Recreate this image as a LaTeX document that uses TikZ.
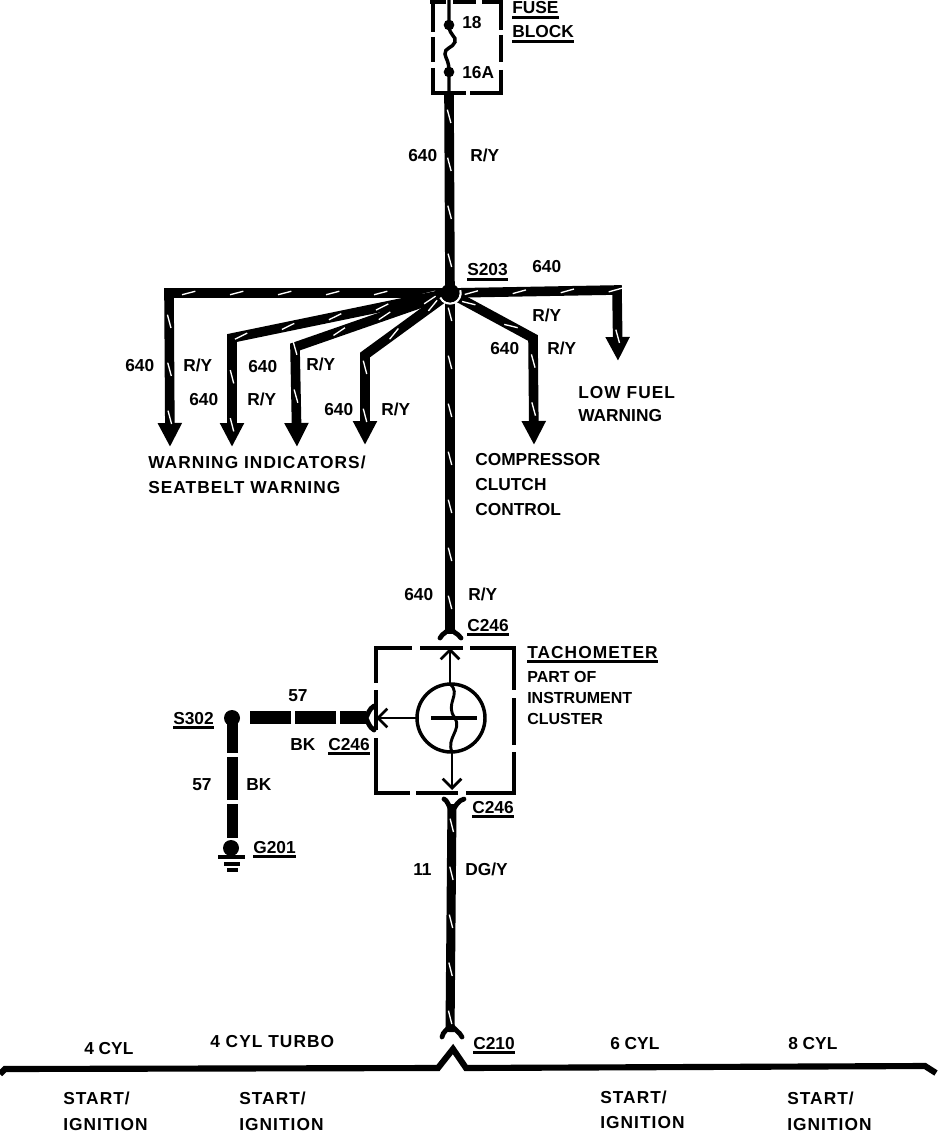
\documentclass[tikz,border=0pt]{standalone}
\usepackage{fontspec}
\setmainfont{Liberation Sans}
\newfontfamily\widefont[LetterSpace=6]{Liberation Sans}
\usetikzlibrary{arrows.meta,decorations.markings}

\newcommand{\tagtext}[1]{\vtop{\hbox{#1}\kern1.4pt\hrule height 1.9pt}}

\tikzset{
  lbl/.style={anchor=base west, inner sep=0pt, font=\fontsize{13}{15}\selectfont\bfseries},
  widelbl/.style={lbl, font=\widefont\fontsize{13}{15}\selectfont\bfseries},
  small/.style={lbl, font=\fontsize{12}{14}\selectfont\bfseries},
  wire/.style={draw, line width=7.2pt, miter limit=10,
    postaction={decorate, decoration={markings,
      mark=between positions 16pt and -8pt step 36pt with
        {\draw[white, -, line width=1pt] (-5pt,-1.3pt) -- (5pt,1.3pt);}}}},
  arrowwire/.style={wire, -{Triangle[length=18pt,width=17pt]}},
  thin/.style={draw, line width=2pt},
  openarrow/.style={thin, -{Straight Barb[length=7pt,width=14pt,line width=2pt]}},
  boxline/.style={draw, line width=3.4pt},
  fork/.style={draw, line width=3.6pt, line cap=round}
}

\begin{document}
\begin{tikzpicture}[x=0.75pt,y=-0.75pt]
\useasboundingbox (0,0) rectangle (944,1144);
\fill[white] (0,0) rectangle (944,1144);

\coordinate (fusetop) at (449,0);
\coordinate (fuse18) at (449,25);
\coordinate (fuse16) at (449,72);
\coordinate (fuseout) at (449,95);
\coordinate (s203) at (450,293);
\coordinate (c246top) at (450,634);
\coordinate (c246bot) at (452,804);
\coordinate (c210) at (450,1032);
\coordinate (tach) at (451,718);
\coordinate (s302) at (232,718);
\coordinate (g201) at (231,848);

% fuse block
\foreach \a/\b in {430/446,453/476,482/502}
    \draw[boxline] (\a,2) -- (\b,2);
\foreach \a/\b in {0/32,37/62,68/95}
    \draw[boxline] (433,\a) -- (433,\b);
\foreach \a/\b in {0/30,35/62,70/95}
    \draw[boxline] (501,\a) -- (501,\b);
\foreach \a/\b in {432/466,470/502}
    \draw[boxline] (\a,93) -- (\b,93);
\draw[thin, line width=2.6pt] (fusetop) -- (fuse18)
  .. controls (449,36) and (457,36) .. (455,42)
  .. controls (453,48) and (444,48) .. (445,54)
  .. controls (446,60) and (449,60) .. (fuse16) -- (fuseout);
\foreach \i in {fuse18,fuse16}
    \fill (\i) circle (4pt);

% feed and splice
\path[wire] (fuseout) -- (s203);
\path[wire] (s203) -- (c246top);
\path[arrowwire] (s203) -- (169,293) -- (170,447);
\path[arrowwire] (s203) -- (232,338) -- (232,447);
\path[arrowwire] (s203) -- (295,347) -- (297,447);
\path[arrowwire] (s203) -- (365,355) -- (365,445);
\path[arrowwire] (s203) -- (533,338) -- (534,445);
\path[arrowwire] (s203) -- (617,290) -- (618,361);
\draw[white, line width=1.6pt] ([shift={(205:8pt)}]s203) arc[start angle=205, end angle=375, radius=8pt];
\fill (s203) circle (7pt);

% tachometer
\foreach \a/\b in {374/412,420/463,470/516}
    \draw[boxline] (\a,648) -- (\b,648);
\foreach \a/\b in {648/683,690/730,738/795}
    \draw[boxline] (376,\a) -- (376,\b);
\foreach \a/\b in {648/690,698/745,752/795}
    \draw[boxline] (514,\a) -- (514,\b);
\foreach \a/\b in {374/410,416/458,466/516}
    \draw[boxline] (\a,793) -- (\b,793);
\draw[thin, line width=2.6pt] (tach) circle (34);
\draw[thin, line width=2.6pt] (431,718) -- (477,718);
\draw[thin, line width=2.2pt] (450,684) .. controls (462,694) and (444,704) .. (455,718)
  .. controls (462,730) and (446,738) .. (452,752);
\path[openarrow] (450,684) -- (450,648);
\path[openarrow] (417,718) -- (376,718);
\path[openarrow] (452,752) -- (452,790);

% connector forks
\draw[fork] (440,638) .. controls (443,632) and (447,634) .. (450,626)
  .. controls (453,634) and (457,632) .. (461,638);
\draw[fork] (444,799) .. controls (447,800) and (449,806) .. (452,812)
  .. controls (455,806) and (459,800) .. (464,799);
\draw[fork] (374,706) .. controls (369,709) and (368,714) .. (366,718)
  .. controls (368,722) and (369,727) .. (374,730);
\draw[fork] (442,1037) .. controls (443,1031) and (447,1031) .. (451,1024)
  .. controls (455,1031) and (459,1031) .. (462,1037);

% lower wires
\path[wire, line width=6.8pt] (c246bot) -- (c210);
\draw[line width=9.75pt, dash pattern=on 30.75pt off 3pt, dash phase=11.25pt] (366,717) -- (247,717);
\draw[line width=8.25pt, dash pattern=on 23.25pt off 3pt on 32.25pt off 3pt on 30pt off 10pt] (232,722) -- (232,838);
\foreach \i in {s302,g201}
    \fill (\i) circle (6pt);
\draw[line width=2.6pt] (218,857) -- (245,857);
\draw[line width=2.4pt] (224,864) -- (240,864);
\draw[line width=2.4pt] (227,870) -- (238,870);

% start/ignition bus
\draw[line width=4.6pt] (0,1074) -- (5,1069) -- (438,1068) -- (453,1049)
  -- (466,1068) -- (925,1066) -- (936,1073);

\foreach \i/\x/\y in {a/408/162,b/532/273,c/490/354,d/125/372,e/189/405,f/248/373,g/324/415,h/404/600}
    \node[lbl] (n640\i) at (\x,\y) {640};
\foreach \i/\x/\y in {a/470/162,b/532/322,c/547/354,d/183/372,e/247/405,f/306/370,g/381/415,h/468/600}
    \node[lbl] (ry\i) at (\x,\y) {R/Y};

\node[lbl] (pin18) at (462,29) {18};
\node[lbl] (pin16a) at (462,79) {16A};
\node[lbl] (fuselbl) at (512,14) {\tagtext{FUSE}};
\node[lbl] (blocklbl) at (512,38) {\tagtext{BLOCK}};
\node[lbl] (s203lbl) at (467,276) {\tagtext{S203}};
\node[widelbl] (lowfuel) at (578,398) {LOW FUEL};
\node[lbl] (lowfuelb) at (578,421) {WARNING};
\node[widelbl] (warnind) at (148,468) {WARNING INDICATORS/};
\node[widelbl] (seatbelt) at (148,493) {SEATBELT WARNING};
\node[lbl] (compr) at (475,465) {COMPRESSOR};
\node[lbl] (clutch) at (475,490) {CLUTCH};
\node[lbl] (control) at (475,515) {CONTROL};
\node[lbl] (c246a) at (467,631) {\tagtext{C246}};
\node[widelbl] (tacho) at (527,658) {\tagtext{TACHOMETER}};
\node[small] (partof) at (527,682) {PART OF};
\node[small] (instr) at (527,703) {INSTRUMENT};
\node[small] (cluster) at (527,724) {CLUSTER};
\node[lbl] (n57a) at (288,701) {57};
\node[lbl] (bka) at (290,750) {BK};
\node[lbl] (c246b) at (328,750) {\tagtext{C246}};
\node[lbl] (s302lbl) at (173,724) {\tagtext{S302}};
\node[lbl] (n57b) at (192,790) {57};
\node[lbl] (bkb) at (246,790) {BK};
\node[lbl] (g201lbl) at (253,853) {\tagtext{G201}};
\node[lbl] (c246c) at (472,813) {\tagtext{C246}};
\node[lbl] (n11) at (413,875) {11};
\node[lbl] (dgy) at (465,875) {DG/Y};
\node[lbl] (c210lbl) at (473,1049) {\tagtext{C210}};

\node[lbl] (cyla) at (84,1054) {4 CYL};
\node[widelbl] (cylb) at (210,1047) {4 CYL TURBO};
\node[lbl] (cylc) at (610,1049) {6 CYL};
\node[lbl] (cyld) at (788,1049) {8 CYL};

\foreach \i/\x/\y in {a/63/1104,b/239/1104,c/600/1103,d/787/1104}
    \node[widelbl] (start\i) at (\x,\y) {START/};
\foreach \i/\x/\y in {a/63/1130,b/239/1130,c/600/1128,d/787/1130}
    \node[widelbl] (ign\i) at (\x,\y) {IGNITION};

\end{tikzpicture}
\end{document}
